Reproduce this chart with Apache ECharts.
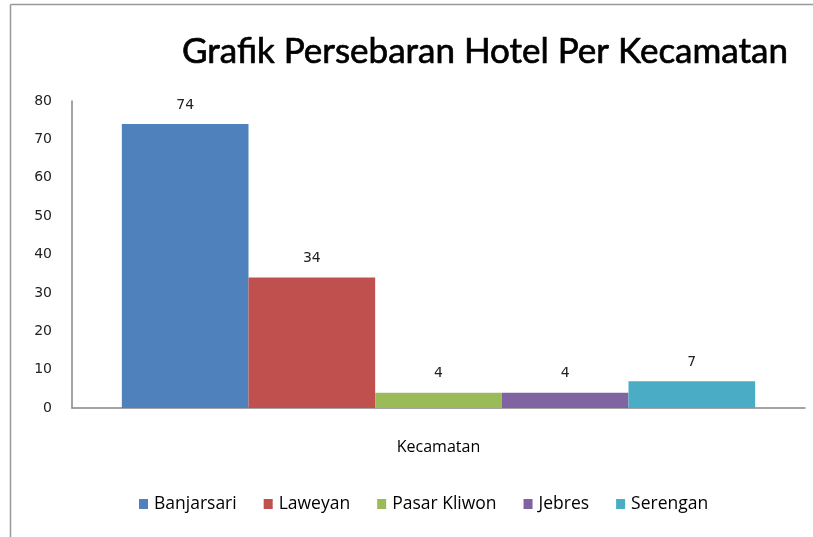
<!DOCTYPE html>
<html><head><meta charset="utf-8">
<script src="https://cdn.jsdelivr.net/npm/echarts@6/dist/echarts.min.js"></script>
<style>html,body{margin:0;padding:0;background:#fff}#c{width:813px;height:537px}</style>
</head><body><div id="c"></div>
<script>
const categories = ['Kecamatan'];
const seriesNames = ['Banjarsari', 'Laweyan', 'Pasar Kliwon', 'Jebres', 'Serengan'];
const seriesValues = [[74], [34], [4], [4], [7]];
const colors = ['#4F81BD', '#C0504D', '#9BBB59', '#8064A2', '#4BACC6'];
const yTicks = { min: 0, max: 80, interval: 10 };

const chart = echarts.init(document.getElementById('c'));
chart.setOption({
  animation: false,
  color: colors,
  title: {
    text: 'Grafik Persebaran Hotel Per Kecamatan',
    left: 480, top: 29, textAlign: 'center',
    textStyle: { fontFamily: 'Lato', fontSize: 35, fontWeight: 'normal', color: '#000', textBorderColor: '#000', textBorderWidth: 0.7 }
  },
  grid: { left: 72, right: 8, top: 101, bottom: 129, containLabel: false },
  legend: {
    bottom: 19, left: 134, itemWidth: 9, itemHeight: 10, itemGap: 27,
    icon: 'rect',
    textStyle: { fontFamily: 'Open Sans', fontSize: 17.5, color: '#000', padding: [0,0,0,1] },
    data: seriesNames
  },
  xAxis: {
    type: 'category', data: categories,
    axisLine: { lineStyle: { color: '#868686', width: 1.5 } },
    axisTick: { show: false },
    axisLabel: { margin: 31, fontFamily: 'Open Sans', fontSize: 16, color: '#000' }
  },
  yAxis: {
    type: 'value', min: yTicks.min, max: yTicks.max, interval: yTicks.interval,
    axisLine: { show: true, lineStyle: { color: '#868686', width: 1.5 } },
    axisTick: { show: false },
    splitLine: { show: false },
    axisLabel: { margin: 20, fontFamily: 'DejaVu Sans', fontSize: 14, color: '#222' }
  },
  graphic: [
    { type: 'line', shape: { x1: 10.5, y1: 4.5, x2: 813, y2: 4.5 }, style: { stroke: '#999', lineWidth: 1.5 } },
    { type: 'line', shape: { x1: 10.5, y1: 4.5, x2: 10.5, y2: 537 }, style: { stroke: '#999', lineWidth: 1.5 } }
  ],
  series: seriesNames.map((n, i) => ({
    name: n, type: 'bar', data: seriesValues[i],
    barGap: '0%', barCategoryGap: '13.6%',
    label: { show: true, position: 'top', distance: 12, fontFamily: 'DejaVu Sans', fontSize: 14, color: '#222' }
  }))
});
</script></body></html>
